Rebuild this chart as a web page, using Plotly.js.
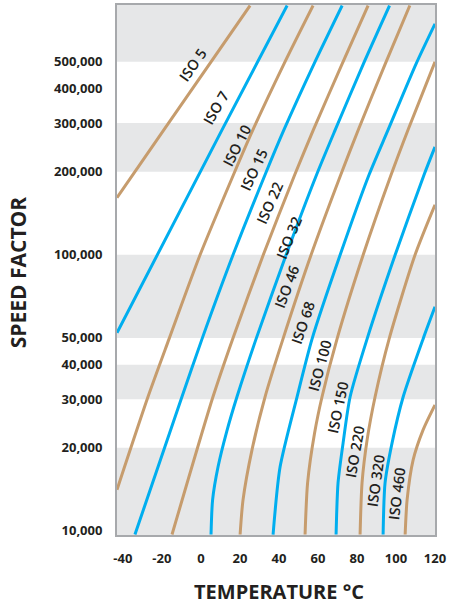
<!DOCTYPE html>
<html><head><meta charset="utf-8">
<script src="https://cdn.plot.ly/plotly-3.0.1.min.js"></script>
<style>html,body{margin:0;padding:0;background:#fff}#chart{width:449px;height:606px}</style>
</head><body><div id="chart"></div>
<script>
// ---- data (temperature °C, speed factor) ----
const grades = ['ISO 5','ISO 7','ISO 10','ISO 15','ISO 22','ISO 32','ISO 46','ISO 68','ISO 100','ISO 150','ISO 220','ISO 320','ISO 460'];

const t_iso5   = [-43, -18.9, 25.2];
const s_iso5   = [161000, 284000, 800000];
const t_iso7   = [-43, 10.9, 44.2];
const s_iso7   = [52200, 284000, 800000];
const t_iso10  = [-43, -27.1, -16.3, -0.4, 16.7, 26.7, 42.6, 57.5];
const s_iso10  = [14100, 30600, 49600, 100000, 195000, 284000, 492000, 800000];
const t_iso15  = [-33.8, -9.7, 0.6, 16.5, 32.9, 42.6, 58.0, 72.4];
const s_iso15  = [9700, 30600, 49600, 100000, 195000, 284000, 492000, 800000];
const t_iso22  = [-14.8, 6.2, 16.3, 32.0, 48.1, 57.7, 72.4, 85.7];
const s_iso22  = [9700, 30600, 49600, 100000, 195000, 284000, 492000, 800000];
const t_iso32  = [5.2, 6.0, 8.8, 13.2, 18.5, 28.3, 43.7, 59.3, 68.9, 83.3, 96.7];
const s_iso32  = [9700, 12950, 17060, 22840, 30600, 49600, 100000, 195000, 284000, 492000, 800000];
const t_iso46  = [20.1, 21.6, 26.2, 32.9, 42.1, 56.5, 71.7, 80.7, 94.5, 107.1];
const s_iso46  = [9700, 12950, 19660, 30600, 49600, 100000, 195000, 284000, 492000, 800000];
const t_iso68  = [37.0, 40.6, 49.3, 57.0, 71.4, 86.2, 96.0, 110.3, 120];
const s_iso68  = [9700, 17060, 30600, 49600, 100000, 195000, 284000, 492000, 687000];
const t_iso100 = [53.4, 54.7, 58.3, 62.1, 69.8, 83.2, 97.5, 106.2, 120];
const s_iso100 = [9700, 14920, 22650, 30600, 49600, 100000, 195000, 284000, 500000];
const t_iso150 = [69.3, 70.3, 72.9, 76.5, 85.2, 99.6, 114.4, 120];
const s_iso150 = [9700, 14920, 20830, 30600, 49600, 100000, 195000, 246000];
const t_iso220 = [81.6, 82.6, 85.2, 89.3, 96.5, 109.8, 120];
const s_iso220 = [9700, 14920, 21360, 30600, 49600, 100000, 151700];
const t_iso320 = [93.4, 94.4, 98.0, 103.7, 113.9, 120];
const s_iso320 = [9700, 14920, 20830, 30600, 49600, 64800];
const t_iso460 = [104.7, 105.7, 108.8, 113.9, 120];
const s_iso460 = [9700, 12950, 18080, 23220, 28600];

// gray background bands (speed factor from..to)
const bandFrom = [9000, 30000, 50000, 200000, 500000];
const bandTo   = [20000, 40000, 100000, 300000, 900000];

// tick labels
const xTickVals = [-40, -20, 0, 20, 40, 60, 80, 100, 120];
const xTickText = ['-40', '-20', '0', '20', '40', '60', '80', '100', '120'];
const yTickVals = [10000, 20000, 30000, 40000, 50000, 100000, 200000, 300000, 400000, 500000];
const yTickText = ['10,000', '20,000', '30,000', '40,000', '50,000', '100,000', '200,000', '300,000', '400,000', '500,000'];

// ---- styling / layout ----
const TAN = '#c69c6d', BLUE = '#00aeef', GRAY = '#e6e7e8', INK = '#231f20';
const temps = [t_iso5,t_iso7,t_iso10,t_iso15,t_iso22,t_iso32,t_iso46,t_iso68,t_iso100,t_iso150,t_iso220,t_iso320,t_iso460];
const speeds = [s_iso5,s_iso7,s_iso10,s_iso15,s_iso22,s_iso32,s_iso46,s_iso68,s_iso100,s_iso150,s_iso220,s_iso320,s_iso460];

// label placement (x in °C, y in log10 of speed factor) and rotation
const labelX = [-4.0, 7.8, 18.5, 27.3, 35.5, 45.2, 44.2, 52.4, 61.1, 70.3, 79.1, 89.8, 100.6];
const labelLogY = [5.688, 5.533, 5.395, 5.308, 5.188, 5.062, 4.884, 4.754, 4.598, 4.446, 4.286, 4.181, 4.134];
const labelAngle = [-55, -60, -63, -65, -66, -68, -69, -71, -75, -78, -80, -82, -83];

const X0 = -43, X1 = 120;
const traces = [];
bandFrom.forEach((lo, i) => {
  const hi = bandTo[i];
  traces.push({x:[X0-5, X1+5, X1+5, X0-5, X0-5], y:[lo, lo, hi, hi, lo], mode:'lines', fill:'toself',
    fillcolor: GRAY, line:{width:0, color:GRAY}, hoverinfo:'skip', showlegend:false});
});
grades.forEach((g, i) => {
  traces.push({x: temps[i], y: speeds[i], mode:'lines', name:g, showlegend:false,
    line:{color: i % 2 === 0 ? TAN : BLUE, width:3, shape:'spline', smoothing:0.7}});
});

const annotations = grades.map((g, i) => ({
  text: g, x: labelX[i], y: labelLogY[i], xref:'x', yref:'y', showarrow:false,
  xanchor:'center', yanchor:'middle',
  textangle: labelAngle[i], font:{family:'Open Sans', size:14.5, weight:600, color: INK}
}));
annotations.push({text:'SPEED FACTOR', xref:'paper', yref:'paper', x:-0.311, y:0.496, showarrow:false,
  xanchor:'center', yanchor:'middle',
  textangle:-90, font:{family:'Open Sans', size:21, weight:'bold', color: INK}});
annotations.push({text:'TEMPERATURE °C', xref:'paper', yref:'paper', x:0.509, y:-0.107, showarrow:false,
  xanchor:'center', yanchor:'middle', borderpad:0,
  font:{family:'Open Sans', size:20, weight:'bold', color: INK}});

const layout = {
  width:449, height:606,
  margin:{l:117, r:14, t:5, b:71},
  paper_bgcolor:'#fff', plot_bgcolor:'#fff',
  showlegend:false,
  xaxis:{range:[X0, X1], tickvals:xTickVals, ticktext:xTickText, ticks:'', showgrid:false, zeroline:false,
    showline:true, mirror:true, linecolor:'#a7a9ac', linewidth:2, ticklabelstandoff:10,
    tickfont:{family:'Open Sans', size:13, weight:'bold', color: INK}},
  yaxis:{type:'log', range:[3.985, 5.905], tickvals:yTickVals, ticktext:yTickText, ticks:'', showgrid:false, zeroline:false,
    showline:true, mirror:true, linecolor:'#a7a9ac', linewidth:2, ticklabelstandoff:10,
    tickfont:{family:'Open Sans', size:13, weight:'bold', color: INK}},
  annotations: annotations
};

Plotly.newPlot('chart', traces, layout, {displayModeBar:false, staticPlot:true});
</script>
</body></html>
